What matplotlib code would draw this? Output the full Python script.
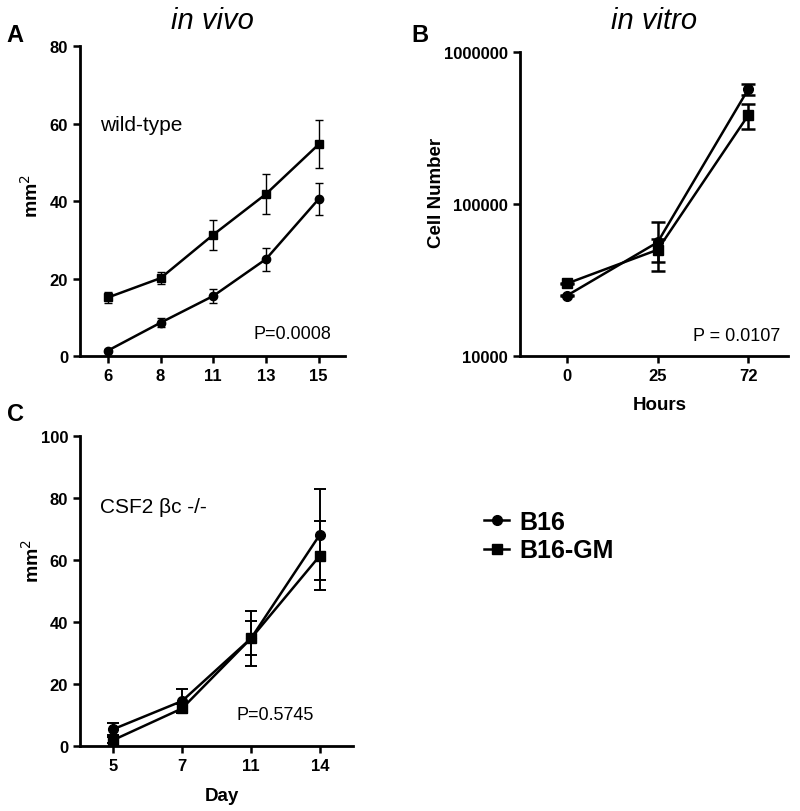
import numpy as np
import matplotlib
matplotlib.use("Agg")
import matplotlib.pyplot as plt

plt.rcParams['font.family'] = ['Liberation Sans', 'DejaVu Sans']

# panel A - in vivo, wild-type (mm2 by day)
days_a = ['6', '8', '11', '13', '15']
b16_a = [1.4, 8.6, 15.5, 25.0, 40.5]
b16_a_err = [0.4, 1.1, 1.8, 3.0, 4.1]
gm_a = [15.1, 20.1, 31.3, 41.8, 54.6]
gm_a_err = [1.3, 1.5, 3.9, 5.2, 6.2]

# panel B - in vitro cell number by hours
hours_b = ['0', '25', '72']
b16_b = [25000, 56000, 568000]
b16_b_err = [300, 20000, 48000]
gm_b = [30000, 50000, 383000]
gm_b_err = [300, 8500, 72000]

# panel C - CSF2 bc -/- (mm2 by day)
days_c = ['5', '7', '11', '14']
b16_c = [5.4, 14.5, 34.7, 68.2]
b16_c_err = [1.9, 3.8, 9.0, 14.8]
gm_c = [1.9, 12.1, 34.7, 61.4]
gm_c_err = [1.0, 1.5, 5.5, 11.1]

fig = plt.figure(figsize=(8, 8.12), dpi=100)

def style_axes(ax):
    ax.spines['top'].set_visible(False)
    ax.spines['right'].set_visible(False)
    ax.spines['left'].set_linewidth(2)
    ax.spines['bottom'].set_linewidth(2)
    ax.tick_params(width=1.8, length=5, direction='out')
    for lbl in ax.get_xticklabels() + ax.get_yticklabels():
        lbl.set_fontweight('bold')
        lbl.set_fontsize(12)

# A
axA = fig.add_axes([0.1, 1 - 357/812, 265/800, 310/812])
x = np.arange(len(days_a))
axA.errorbar(x, gm_a, yerr=gm_a_err, color='black', marker='s', markersize=6, lw=1.8,
             elinewidth=1, capsize=3, capthick=1)
axA.errorbar(x, b16_a, yerr=b16_a_err, color='black', marker='o', markersize=6, lw=1.8,
             elinewidth=1, capsize=3, capthick=1)
axA.set_xticks(x)
axA.set_xticklabels(days_a)
axA.set_xlim(-0.53, 4.5)
axA.set_ylim(0, 80)
axA.set_yticks([0, 20, 40, 60, 80])
style_axes(axA)
axA.set_ylabel('mm$^2$', fontsize=14, fontweight='bold')
axA.yaxis.set_label_coords(-0.143, 0.52)
axA.set_title('in vivo', fontsize=21, style='italic', y=1.03)
axA.text(0.075, 0.748, 'wild-type', transform=axA.transAxes, fontsize=15, va='center')
axA.text(0.947, 0.074, 'P=0.0008', transform=axA.transAxes, fontsize=13, va='center', ha='right')

# B
axB = fig.add_axes([0.65, 1 - 357/812, 268/800, 304/812])
x = np.arange(len(hours_b))
axB.errorbar(x, b16_b, yerr=b16_b_err, color='black', marker='o', markersize=7, lw=1.8,
             elinewidth=1.8, capsize=5, capthick=1.8)
axB.errorbar(x, gm_b, yerr=gm_b_err, color='black', marker='s', markersize=7, lw=1.8,
             elinewidth=1.8, capsize=5, capthick=1.8)
axB.set_yscale('log')
axB.set_ylim(1e4, 1e6)
axB.set_yticks([1e4, 1e5, 1e6])
axB.set_yticklabels(['10000', '100000', '1000000'])
axB.yaxis.set_minor_locator(matplotlib.ticker.NullLocator())
axB.set_xticks(x)
axB.set_xticklabels(hours_b)
axB.set_xlim(-0.52, 2.44)
style_axes(axB)
axB.set_ylabel('Cell Number', fontsize=13.5, fontweight='bold')
axB.yaxis.set_label_coords(-0.28, 0.54)
axB.set_xlabel('Hours', fontsize=13.5, fontweight='bold')
axB.xaxis.set_label_coords(0.52, -0.13)
axB.set_title('in vitro', fontsize=21, style='italic', y=1.05)
axB.text(0.97, 0.066, 'P = 0.0107', transform=axB.transAxes, fontsize=13, va='center', ha='right')

# C
axC = fig.add_axes([0.1, 1 - 747/812, 273/800, 310/812])
x = np.arange(len(days_c))
lb, = axC.plot([], [], color='black', marker='o', markersize=7, lw=1.8)
lg, = axC.plot([], [], color='black', marker='s', markersize=7, lw=1.8)
axC.errorbar(x, b16_c, yerr=b16_c_err, color='black', marker='o', markersize=7, lw=1.8,
             elinewidth=1.4, capsize=4, capthick=1.4)
axC.errorbar(x, gm_c, yerr=gm_c_err, color='black', marker='s', markersize=7, lw=1.8,
             elinewidth=1.4, capsize=4, capthick=1.4)
axC.set_xticks(x)
axC.set_xticklabels(days_c)
axC.set_xlim(-0.48, 3.48)
axC.set_ylim(0, 100)
axC.set_yticks([0, 20, 40, 60, 80, 100])
style_axes(axC)
axC.set_ylabel('mm$^2$', fontsize=14, fontweight='bold')
axC.yaxis.set_label_coords(-0.135, 0.6)
axC.set_xlabel('Day', fontsize=13.5, fontweight='bold')
axC.xaxis.set_label_coords(0.52, -0.132)
axC.text(0.073, 0.774, 'CSF2 \u03b2c -/-', transform=axC.transAxes, fontsize=15, va='center')
axC.text(0.575, 0.103, 'P=0.5745', transform=axC.transAxes, fontsize=13, va='center')

# legend
fig.legend([lb, lg], ['B16', 'B16-GM'], loc='center left',
           bbox_to_anchor=(484/800, 1 - 537/812), frameon=False,
           prop={'weight': 'bold', 'size': 18}, handlelength=1.0,
           handletextpad=0.4, labelspacing=0.2, borderpad=0, borderaxespad=0)

# panel letters
fig.text(15/800, 1 - 35/812, 'A', fontsize=17, fontweight='bold', ha='center', va='center')
fig.text(420/800, 1 - 35/812, 'B', fontsize=17, fontweight='bold', ha='center', va='center')
fig.text(15/800, 1 - 415/812, 'C', fontsize=17, fontweight='bold', ha='center', va='center')

fig.savefig('out.png', dpi=100)
